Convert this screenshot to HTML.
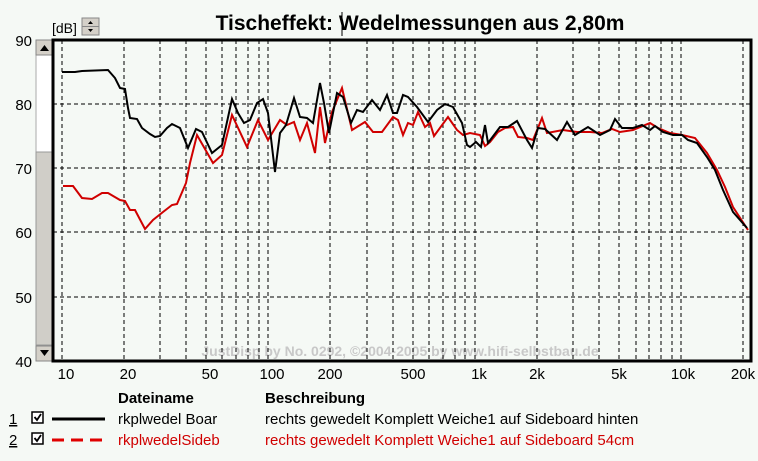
<!DOCTYPE html>
<html><head><meta charset="utf-8"><style>
body{margin:0;background:#f5f9f5;}
svg text{font-family:"Liberation Sans",sans-serif;}
</style></head><body>
<svg width="758" height="456" viewBox="0 0 758 456" xmlns="http://www.w3.org/2000/svg">
<rect width="758" height="456" fill="#f5f9f5"/>
<text x="420" y="30" font-size="21" font-weight="bold" text-anchor="middle" fill="#000">Tischeffekt: Wedelmessungen aus 2,80m</text>
<line x1="342" y1="12" x2="342" y2="36" stroke="#000" stroke-width="1"/>
<text x="52" y="33" font-size="14" fill="#000">[dB]</text>
<rect x="82" y="18" width="17" height="17" fill="#d4d0c8" stroke="#888"/>
<line x1="82" y1="26.5" x2="99" y2="26.5" stroke="#888"/>
<path d="M88 24 L93 24 L90.5 21Z M88 29 L93 29 L90.5 32Z" fill="#000"/>
<!-- scrollbar -->
<rect x="36" y="40" width="17" height="321" fill="#fff" stroke="#aaa"/>
<rect x="36" y="152" width="17" height="193" fill="#d0cec8" stroke="#999"/>
<rect x="36" y="40" width="17" height="15" fill="#d4d0c8" stroke="#888"/>
<path d="M40 51 L49 51 L44.5 45Z" fill="#000"/>
<rect x="36" y="346" width="17" height="15" fill="#d4d0c8" stroke="#888"/>
<path d="M40 350 L49 350 L44.5 356Z" fill="#000"/>
<text x="400" y="356" font-size="14" font-weight="bold" text-anchor="middle" fill="#c8c8c8">JustDisp by No. 0292, ©2004-2005 by www.hifi-selbstbau.de</text>
<!-- grid -->
<g stroke="#000" stroke-width="1" stroke-dasharray="4,3">
<line x1="53" y1="104" x2="751" y2="104"/><line x1="53" y1="168" x2="751" y2="168"/>
<line x1="53" y1="232" x2="751" y2="232"/><line x1="53" y1="297" x2="751" y2="297"/>
<line x1="62" y1="40" x2="62" y2="361"/><line x1="124" y1="40" x2="124" y2="361"/><line x1="160" y1="40" x2="160" y2="361"/><line x1="186" y1="40" x2="186" y2="361"/><line x1="206" y1="40" x2="206" y2="361"/><line x1="222" y1="40" x2="222" y2="361"/><line x1="236" y1="40" x2="236" y2="361"/><line x1="248" y1="40" x2="248" y2="361"/><line x1="259" y1="40" x2="259" y2="361"/>
<line x1="268" y1="40" x2="268" y2="361"/><line x1="330" y1="40" x2="330" y2="361"/><line x1="367" y1="40" x2="367" y2="361"/><line x1="393" y1="40" x2="393" y2="361"/><line x1="413" y1="40" x2="413" y2="361"/><line x1="429" y1="40" x2="429" y2="361"/><line x1="443" y1="40" x2="443" y2="361"/><line x1="455" y1="40" x2="455" y2="361"/><line x1="465" y1="40" x2="465" y2="361"/>
<line x1="475" y1="40" x2="475" y2="361"/><line x1="537" y1="40" x2="537" y2="361"/><line x1="573" y1="40" x2="573" y2="361"/><line x1="599" y1="40" x2="599" y2="361"/><line x1="619" y1="40" x2="619" y2="361"/><line x1="636" y1="40" x2="636" y2="361"/><line x1="649" y1="40" x2="649" y2="361"/><line x1="661" y1="40" x2="661" y2="361"/><line x1="672" y1="40" x2="672" y2="361"/>
<line x1="681" y1="40" x2="681" y2="361"/><line x1="743" y1="40" x2="743" y2="361"/>
</g>
<!-- curves -->
<polyline fill="none" stroke="#d00000" stroke-width="2" points="63,186 73,186 82,198 92,199 102,193 108,193 120,200 125,201 130,210 135,210 145,229 153,220 163,212 172,205 177,204 186,183 190,163 197,135 213,163 222,155 232,115 247,147 258,120 268,140 280,120 287,125 294,122 300,140 307,123 315,153 320,107 325,143 332,112 342,88 352,130 365,122 373,132 382,132 393,117 398,120 403,135 408,123 413,125 418,112 425,127 430,123 434,136 448,117 457,130 463,135 470,133 480,135 485,146 490,142 498,132 505,128 513,127 518,137 527,138 533,140 542,118 547,133 563,130 577,132 590,132 602,133 612,129 620,132 633,130 650,123 658,128 670,133 682,135 695,138 707,153 717,170 725,187 733,207 748,230"/>
<polyline fill="none" stroke="#000" stroke-width="2" points="62,72 75,72 82,71 108,70 115,78 120,88 125,89 128,108 130,118 137,119 142,128 150,134 155,137 160,136 167,128 172,124 178,127 180,128 188,148 196,129 202,132 212,153 222,145 232,99 238,113 244,123 250,120 257,103 263,99 268,113 275,172 280,133 286,125 294,98 300,117 307,118 313,123 320,83 324,103 329,133 337,93 343,97 351,123 357,110 363,112 372,100 380,110 387,95 393,113 397,113 403,95 408,97 417,107 428,122 437,110 445,104 453,107 462,123 467,145 470,147 476,142 481,147 485,125 488,143 500,127 508,127 517,121 527,140 532,148 538,128 545,129 557,140 567,122 575,135 588,127 600,135 610,130 615,119 622,128 633,128 642,125 650,130 655,126 663,132 673,135 682,135 688,140 697,143 707,157 715,170 723,190 733,212 747,228"/>
<rect x="53" y="40" width="698" height="321" fill="none" stroke="#000" stroke-width="3"/>
<!-- axis labels -->
<g font-size="15" fill="#000" text-anchor="end">
<text x="32" y="46">90</text><text x="32" y="110">80</text><text x="32" y="174">70</text><text x="32" y="238">60</text><text x="32" y="303">50</text><text x="32" y="367">40</text>
</g>
<g font-size="15" fill="#000" text-anchor="middle">
<text x="66" y="379">10</text><text x="128" y="379">20</text><text x="210" y="379">50</text><text x="272" y="379">100</text><text x="330" y="379">200</text><text x="413" y="379">500</text><text x="479" y="379">1k</text><text x="537" y="379">2k</text><text x="619" y="379">5k</text><text x="683" y="379">10k</text><text x="743" y="379">20k</text>
</g>
<!-- legend -->
<text x="118" y="403" font-size="15" font-weight="bold">Dateiname</text>
<text x="265" y="403" font-size="15" font-weight="bold">Beschreibung</text>
<g font-size="15">
<text x="9" y="424" text-decoration="underline">1</text>
<text x="9" y="445" text-decoration="underline">2</text>
<rect x="32" y="412" width="11" height="11" fill="#fff" stroke="#000" stroke-width="1.5"/>
<path d="M34.5 417 L37 420 L41 414" fill="none" stroke="#000" stroke-width="1.8"/>
<rect x="32" y="433" width="11" height="11" fill="#fff" stroke="#000" stroke-width="1.5"/>
<path d="M34.5 438 L37 441 L41 435" fill="none" stroke="#000" stroke-width="1.8"/>
<line x1="52" y1="419" x2="105" y2="419" stroke="#000" stroke-width="3"/>
<line x1="52" y1="440" x2="105" y2="440" stroke="#e00000" stroke-width="3" stroke-dasharray="12,7"/>
<text x="118" y="424">rkplwedel Boar</text>
<text x="265" y="424">rechts gewedelt Komplett Weiche1 auf Sideboard hinten</text>
<text x="118" y="445" fill="#d00000">rkplwedelSideb</text>
<text x="265" y="445" fill="#d00000">rechts gewedelt Komplett Weiche1 auf Sideboard 54cm</text>
</g>
</svg>
</body></html>
